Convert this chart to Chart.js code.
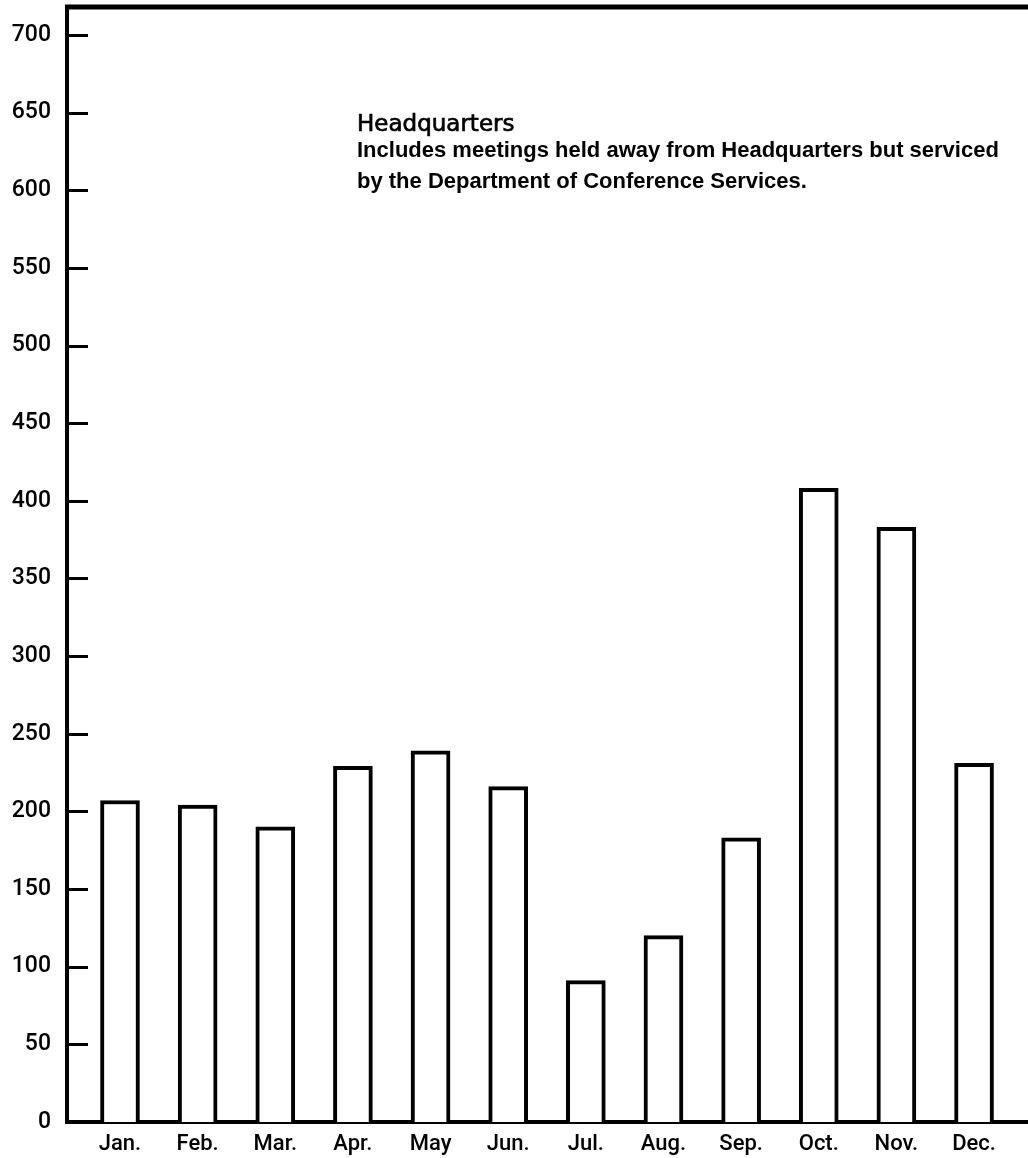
<!DOCTYPE html>
<html>
<head>
<meta charset="utf-8">
<script src="https://cdn.jsdelivr.net/npm/chart.js@4.4.1/dist/chart.umd.min.js"></script>
<style>
  html, body { margin: 0; padding: 0; background: #fff; }
  #wrap { width: 1028px; height: 1158px; position: relative; }
</style>
</head>
<body>
<div id="wrap"><canvas id="chart"></canvas></div>
<script>
// --- Data ---
const months = ['Jan.', 'Feb.', 'Mar.', 'Apr.', 'May', 'Jun.', 'Jul.', 'Aug.', 'Sep.', 'Oct.', 'Nov.', 'Dec.'];
const meetings = [207, 204, 190, 229, 239, 216, 91, 120, 183, 408, 383, 231];
const yTicks = [0, 50, 100, 150, 200, 250, 300, 350, 400, 450, 500, 550, 600, 650, 700];

const titleText = 'Headquarters';
const noteLines = [
  'Includes meetings held away from Headquarters but serviced',
  'by the Department of Conference Services.'
];

// bars sit on a linear x axis so the month slots can start a bit right of the y axis
const points = meetings.map((v, i) => ({ x: i + 1, y: v }));

const tickFont = { family: 'Roboto, "Liberation Sans", Arial, sans-serif', size: 23, weight: '500' };

// top frame line, inward y tick marks and the text block
const framePlugin = {
  id: 'frame',
  afterDraw(chart) {
    const { ctx, chartArea } = chart;
    const yScale = chart.scales.y;
    ctx.save();
    ctx.strokeStyle = '#000';
    ctx.lineWidth = 5;
    ctx.beginPath();
    ctx.moveTo(chartArea.left - 2, chartArea.top);
    ctx.lineTo(chartArea.right, chartArea.top);
    ctx.stroke();

    ctx.lineWidth = 3;
    yTicks.forEach(t => {
      if (t === 0) return;
      const y = Math.round(yScale.getPixelForValue(t)) + 0.5;
      ctx.beginPath();
      ctx.moveTo(chartArea.left, y);
      ctx.lineTo(chartArea.left + 21, y);
      ctx.stroke();
    });

    ctx.fillStyle = '#000';
    ctx.textAlign = 'left';
    ctx.textBaseline = 'alphabetic';
    // title is a medium weight, so thicken the regular face a little
    ctx.font = '23px "DejaVu Sans"';
    ctx.lineWidth = 0.7;
    ctx.fillText(titleText, 357, 131);
    ctx.strokeText(titleText, 357, 131);
    ctx.font = 'bold 22px "Liberation Sans"';
    ctx.fillText(noteLines[0], 357, 157);
    ctx.fillText(noteLines[1], 357, 188);
    ctx.restore();
  }
};

new Chart(document.getElementById('chart'), {
  type: 'bar',
  data: {
    datasets: [{
      label: 'Meetings',
      data: points,
      backgroundColor: '#fff',
      borderColor: '#000',
      borderWidth: 4,
      borderSkipped: 'bottom',
      barThickness: 39
    }]
  },
  options: {
    responsive: true,
    maintainAspectRatio: false,
    animation: false,
    layout: { autoPadding: false, padding: { top: 7, right: 0, left: 0, bottom: 0 } },
    plugins: {
      legend: { display: false },
      title: { display: false },
      tooltip: { enabled: false }
    },
    scales: {
      x: {
        type: 'linear',
        offset: false,
        min: 0.3174,
        max: 12.695,
        grid: { display: false, drawTicks: false, offset: false },
        border: { display: true, color: '#000', width: 4 },
        afterBuildTicks: scale => {
          scale.ticks = months.map((m, i) => ({ value: i + 1 }));
        },
        afterFit: scale => {
          scale.height = 36;
          scale.paddingLeft = 0;
          scale.paddingRight = 0;
        },
        ticks: {
          stepSize: 1,
          includeBounds: false,
          autoSkip: false,
          maxRotation: 0,
          padding: 9,
          color: '#000',
          font: { ...tickFont, size: 22 },
          callback: v => months[v - 1] || ''
        }
      },
      y: {
        min: 0,
        max: 718,
        grid: { display: false, drawTicks: false },
        border: { display: true, color: '#000', width: 4 },
        afterBuildTicks: scale => {
          scale.ticks = yTicks.map(v => ({ value: v }));
        },
        afterFit: scale => {
          scale.width = 67;
          scale.paddingTop = 0;
          scale.paddingBottom = 0;
        },
        ticks: {
          stepSize: 50,
          includeBounds: false,
          padding: 16,
          color: '#000',
          font: tickFont
        }
      }
    }
  },
  plugins: [framePlugin]
});
</script>
</body>
</html>
